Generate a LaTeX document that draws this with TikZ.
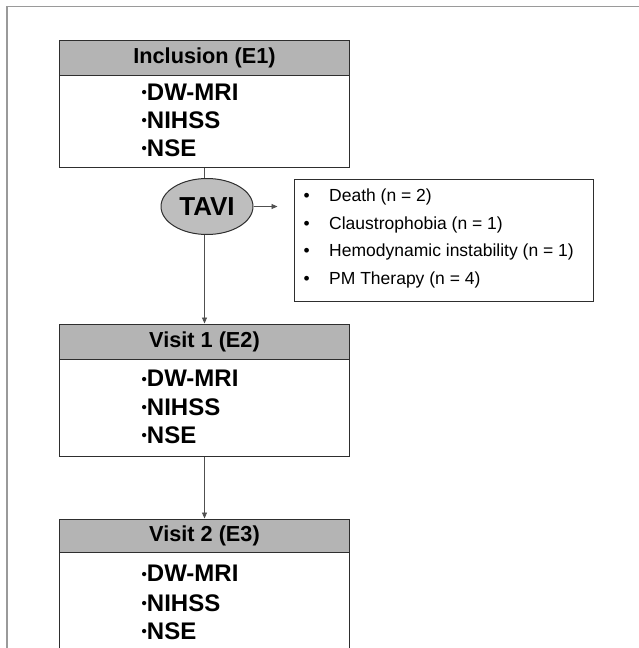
\documentclass[tikz,border=0pt]{standalone}
\usepackage{fontspec}
\setmainfont{Liberation Sans}
\usetikzlibrary{arrows.meta,shapes.geometric}
\definecolor{boxline}{HTML}{2E2E2E}
\definecolor{hdrgray}{HTML}{B4B4B4}
\definecolor{ellgray}{HTML}{BEBEBE}
\definecolor{connline}{HTML}{505050}
\definecolor{framegray}{HTML}{9A9A9A}
\newcommand{\smbul}{{\fontsize{15}{15}\selectfont\raisebox{2.6pt}{•}}}
\begin{document}
\begin{tikzpicture}[x=1pt,y=-1pt,
  hdr/.style={draw=boxline, fill=hdrgray, line width=1pt, minimum width=290pt, minimum height=35pt, inner sep=0pt, font=\fontsize{21.7}{24}\selectfont\bfseries},
  body/.style={draw=boxline, fill=white, line width=1pt, minimum width=290pt, inner sep=0pt},
  item/.style={anchor=base west, inner sep=0pt, font=\fontsize{24}{28}\selectfont\bfseries},
  lst/.style={anchor=base west, inner sep=0pt, font=\fontsize{17.5}{20}\selectfont},
  conn/.style={draw=connline, line width=0.8pt},
  arr/.style={conn, -{Triangle[length=6pt,width=5pt]}}
]
\useasboundingbox (0,0) rectangle (639,648);
\clip (0,0) rectangle (639,648);
% outer frame
\draw[framegray, line width=1.5pt] (7,650) -- (7,6.5) -- (640,6.5);

% box 1
\node[body, minimum height=92pt] (b1) at (204.5,121) {};
\node[hdr] (h1) at (204.5,57.5) {Inclusion (E1)};
\node[item] (b1a) at (141.5,100) {\smbul DW-MRI};
\node[item] (b1b) at (141.5,128) {\smbul NIHSS};
\node[item] (b1c) at (141.5,156) {\smbul NSE};

% TAVI
\node[ellipse, draw=boxline, line width=1pt, fill=ellgray, minimum width=92pt, minimum height=56pt, inner sep=0pt, font=\fontsize{26}{30}\selectfont\bfseries] (tavi) at (207,206.5) {TAVI};

% list box
\node[draw=boxline, line width=1pt, minimum width=299pt, minimum height=122pt, inner sep=0pt] (lbox) at (443.5,240) {};
\node[lst] (l1b) at (303.5,201) {•};
\node[lst] (l1) at (329,201) {Death (n = 2)};
\node[lst] (l2b) at (303.5,229) {•};
\node[lst] (l2) at (329,229) {Claustrophobia (n = 1)};
\node[lst] (l3b) at (303.5,256.7) {•};
\node[lst] (l3) at (329,256.7) {Hemodynamic instability (n = 1)};
\node[lst] (l4b) at (303.5,284.3) {•};
\node[lst] (l4) at (329,284.3) {PM Therapy (n = 4)};

% visit 1
\node[body, minimum height=97pt] (b2) at (204.5,407.5) {};
\node[hdr] (h2) at (204.5,341.5) {Visit 1 (E2)};
\node[item] (b2a) at (141.5,386.7) {\smbul DW-MRI};
\node[item] (b2b) at (141.5,415) {\smbul NIHSS};
\node[item] (b2c) at (141.5,443.3) {\smbul NSE};

% visit 2
\node[body, minimum height=120pt] (b3) at (204.5,612) {};
\node[hdr, minimum height=33.5pt] (h3) at (204.5,535.75) {Visit 2 (E3)};
\node[item] (b3a) at (141.5,581.7) {\smbul DW-MRI};
\node[item] (b3b) at (141.5,611) {\smbul NIHSS};
\node[item] (b3c) at (141.5,639.5) {\smbul NSE};

% connectors
\draw[conn] (b1.south) -- (tavi.north -| b1.south);
\draw[arr] (tavi.south -| b1.south) -- (h2.north);
\draw[arr, shorten >=16pt] (tavi.east) -- (tavi.east -| lbox.west);
\draw[arr] (b2.south) -- (h3.north);
\end{tikzpicture}
\end{document}
